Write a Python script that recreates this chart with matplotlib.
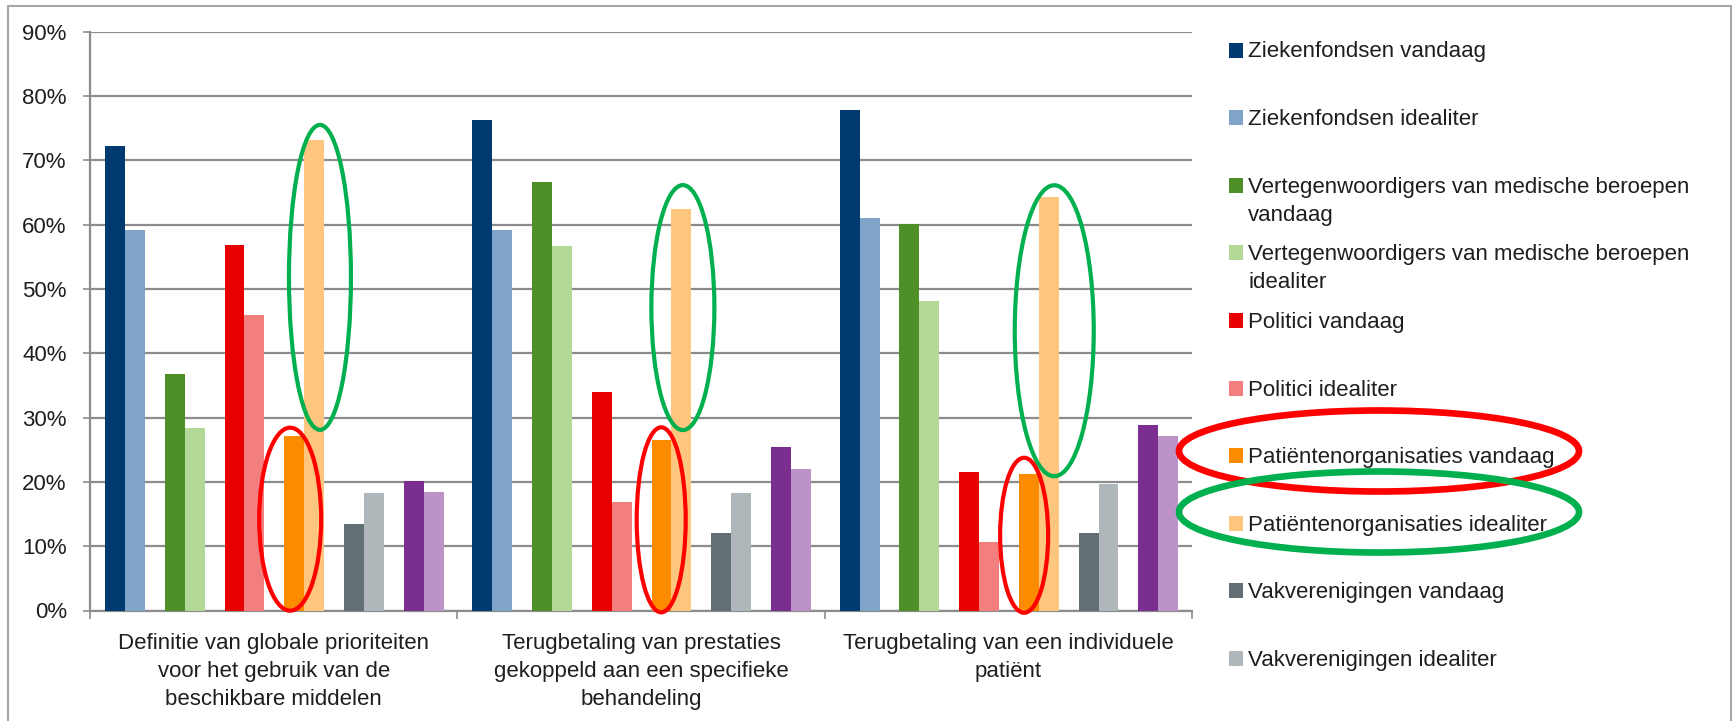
import textwrap
import matplotlib
matplotlib.use("Agg")
import matplotlib.pyplot as plt
from matplotlib.patches import Ellipse, Rectangle
from matplotlib.ticker import FuncFormatter, FixedLocator

plt.rcParams['font.family'] = ['Liberation Sans', 'DejaVu Sans']

# Categories (x groups)
categories = [
    "Definitie van globale prioriteiten\nvoor het gebruik van de\nbeschikbare middelen",
    "Terugbetaling van prestaties\ngekoppeld aan een specifieke\nbehandeling",
    "Terugbetaling van een individuele\npatiënt",
]

# Share of respondents (%) per stakeholder group, today vs ideally
ziekenfondsen_vandaag = [72.3, 76.3, 77.9]
ziekenfondsen_idealiter = [59.2, 59.2, 61.0]
artsen_vandaag = [36.8, 66.7, 60.1]
artsen_idealiter = [28.4, 56.6, 48.2]
politici_vandaag = [56.8, 33.9, 21.6]
politici_idealiter = [46.0, 16.8, 10.6]
patienten_vandaag = [27.1, 26.5, 21.3]
patienten_idealiter = [73.2, 62.5, 64.3]
vakverenigingen_vandaag = [13.5, 12.1, 12.1]
vakverenigingen_idealiter = [18.2, 18.2, 19.6]
overige_vandaag = [20.2, 25.5, 28.8]
overige_idealiter = [18.5, 22.0, 27.1]

series_names = [
    "Ziekenfondsen vandaag",
    "Ziekenfondsen idealiter",
    "Vertegenwoordigers van medische beroepen vandaag",
    "Vertegenwoordigers van medische beroepen idealiter",
    "Politici vandaag",
    "Politici idealiter",
    "Patiëntenorganisaties vandaag",
    "Patiëntenorganisaties idealiter",
    "Vakverenigingen vandaag",
    "Vakverenigingen idealiter",
]
series_colors = [
    "#003a70", "#80a3c8", "#4f8f27", "#b3d998", "#e80000", "#f27e7e",
    "#fd8b00", "#ffc680", "#637073", "#b0b7ba", "#7a2e90", "#bb93c9",
]
series_values = [
    ziekenfondsen_vandaag, ziekenfondsen_idealiter,
    artsen_vandaag, artsen_idealiter,
    politici_vandaag, politici_idealiter,
    patienten_vandaag, patienten_idealiter,
    vakverenigingen_vandaag, vakverenigingen_idealiter,
    overige_vandaag, overige_idealiter,
]

W, H = 1734, 721
fig = plt.figure(figsize=(W / 100, H / 100), dpi=100)
fig.patch.set_facecolor("white")

ax_left, ax_right, ax_top, ax_bottom = 90, 1192, 31.7, 610.5
ax = fig.add_axes([ax_left / W, 1 - ax_bottom / H,
                   (ax_right - ax_left) / W, (ax_bottom - ax_top) / H])

TEXT = "#1e1e1e"
GRID = "#8c8c8c"

# Bars: pairs (vandaag/idealiter) with an empty slot between pairs
slot = 0.0542
margin = 0.041
for s, (vals, col) in enumerate(zip(series_values, series_colors)):
    pair, member = divmod(s, 2)
    xs = [g + margin + (3 * pair + member) * slot for g in range(len(categories))]
    ax.bar(xs, vals, width=slot, align="edge", color=col, linewidth=0, zorder=3)

ax.set_xlim(0, len(categories))
ax.set_ylim(0, 90)
ax.yaxis.set_major_locator(FixedLocator(range(0, 91, 10)))
ax.yaxis.set_major_formatter(FuncFormatter(lambda v, p: f"{v:.0f}%"))
ax.grid(axis="y", color=GRID, linewidth=1.6, zorder=0)
ax.set_axisbelow(True)

for side in ("top", "right"):
    ax.spines[side].set_visible(False)
for side in ("left", "bottom"):
    ax.spines[side].set_color(GRID)
    ax.spines[side].set_linewidth(1.6)

ax.set_xticks([g + 0.5 for g in range(len(categories))])
ax.set_xticklabels(categories, fontsize=16, color=TEXT, linespacing=1.45)
ax.tick_params(axis="x", which="major", length=0, pad=16)
ax.set_xticks(range(len(categories) + 1), minor=True)
ax.tick_params(axis="x", which="minor", length=5.5, width=1.2, color=GRID)
ax.tick_params(axis="y", length=4.7, width=1.2, color=GRID, labelsize=16,
               labelcolor=TEXT, pad=12)

# Highlight ellipses around the patient-organisation bars
px_x = (ax_right - ax_left) / len(categories)
px_y = (ax_bottom - ax_top) / 90
bar_rings = [
    (0.626, 51.8, 62, 305, "#00b04f"),
    (0.545, 14.2, 62, 183, "#ff0000"),
    (1.614, 47.1, 63, 245, "#00b04f"),
    (1.555, 14.1, 49, 185, "#ff0000"),
    (2.625, 43.5, 79, 291, "#00b04f"),
    (2.543, 11.7, 48, 155, "#ff0000"),
]
for cx, cy, w, h, col in bar_rings:
    ax.add_patch(Ellipse((cx, cy), w / px_x, h / px_y, fill=False,
                         edgecolor=col, linewidth=3.0, zorder=5, clip_on=False))

# Legend drawn in figure pixels
def fx(x):
    return x / W

def fy(y):
    return 1 - y / H

legend_y0, legend_step, line_step = 50, 67.6, 28
for i, (name, col) in enumerate(zip(series_names, series_colors)):
    y = legend_y0 + i * legend_step
    fig.patches.append(Rectangle((fx(1229), fy(y + 7.5)), 14 / W, 15 / H,
                                 transform=fig.transFigure, color=col,
                                 linewidth=0))
    for k, line in enumerate(textwrap.wrap(name, 40)):
        fig.text(fx(1248), fy(y + 7.5 + k * line_step), line, fontsize=16,
                 color=TEXT, va="baseline", ha="left")

for cy, col in ((451, "#ff0000"), (512, "#00b04f")):
    fig.patches.append(Ellipse((fx(1379), fy(cy)), 400 / W, 81 / H,
                               transform=fig.transFigure, fill=False,
                               edgecolor=col, linewidth=4.8, zorder=6))

# Outer chart frame
fig.patches.append(Rectangle((fx(8), fy(760)), (1731 - 8) / W, (760 - 6) / H,
                             transform=fig.transFigure, fill=False,
                             edgecolor="#a6a6a6", linewidth=1.5))

fig.savefig("out.png", dpi=100)
